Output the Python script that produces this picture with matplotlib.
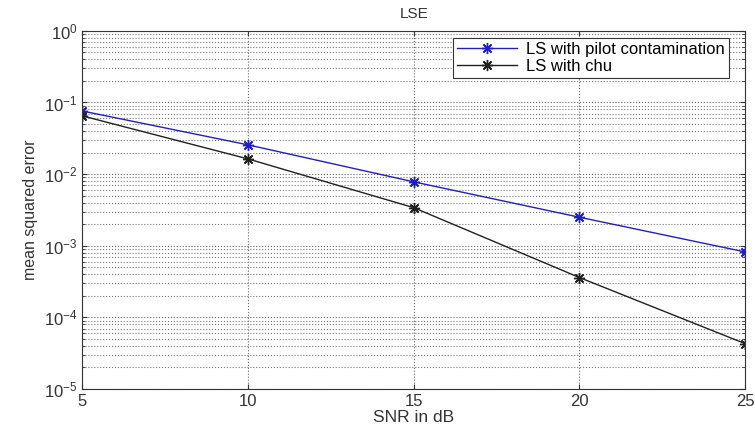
import numpy as np
import matplotlib.pyplot as plt
import matplotlib.ticker as tck

plt.rcParams['font.family'] = ['Liberation Sans', 'DejaVu Sans']

snr = np.array([5, 10, 15, 20, 25])
mse_pilot = np.array([0.076, 0.0256, 0.0078, 0.0025, 8.2e-4])
mse_chu = np.array([0.065, 0.0163, 0.0034, 3.6e-4, 4.3e-5])

fig = plt.figure(figsize=(7.55, 4.28), dpi=100)
ax = fig.add_axes([0.109, 0.091, 0.878, 0.837])

ax.semilogy(snr, mse_pilot, '-', marker=(8, 2, 0), color='#2020c0', lw=1, ms=8, label='LS with pilot contamination')
ax.semilogy(snr, mse_chu, '-', marker=(8, 2, 0), color='#202020', lw=1, ms=8, label='LS with chu')

ax.set_xlim(5, 25)
ax.set_ylim(1e-5, 1)
ax.set_xticks([5, 10, 15, 20, 25])
ax.yaxis.set_major_locator(tck.LogLocator(base=10, numticks=10))
ax.yaxis.set_minor_locator(tck.LogLocator(base=10, subs=np.arange(2, 10), numticks=10))
ax.yaxis.set_minor_formatter(tck.NullFormatter())

ax.grid(True, which='major', ls=':', color='#666666', lw=0.8)
ax.grid(True, which='minor', axis='y', ls=':', color='#777777', lw=0.8)
ax.tick_params(which='both', direction='in', top=True, right=True, labelsize=12, colors='#333333')
for s in ax.spines.values():
    s.set_color('#333333')

ax.set_title('LSE', fontsize=11, color='#333333', pad=9)
ax.set_xlabel('SNR in dB', fontsize=12.5, color='#333333', labelpad=1)
ax.set_ylabel('mean squared error', fontsize=11.5, color='#333333', labelpad=4)

leg = ax.legend(loc='upper right', bbox_to_anchor=(0.975, 0.98), fontsize=12,
                fancybox=False, edgecolor='#333333', framealpha=1,
                borderpad=0.25, handlelength=3.6, handletextpad=0.5,
                labelspacing=0.1, borderaxespad=0)
leg.get_frame().set_linewidth(0.8)

plt.savefig('out.png', dpi=100)
